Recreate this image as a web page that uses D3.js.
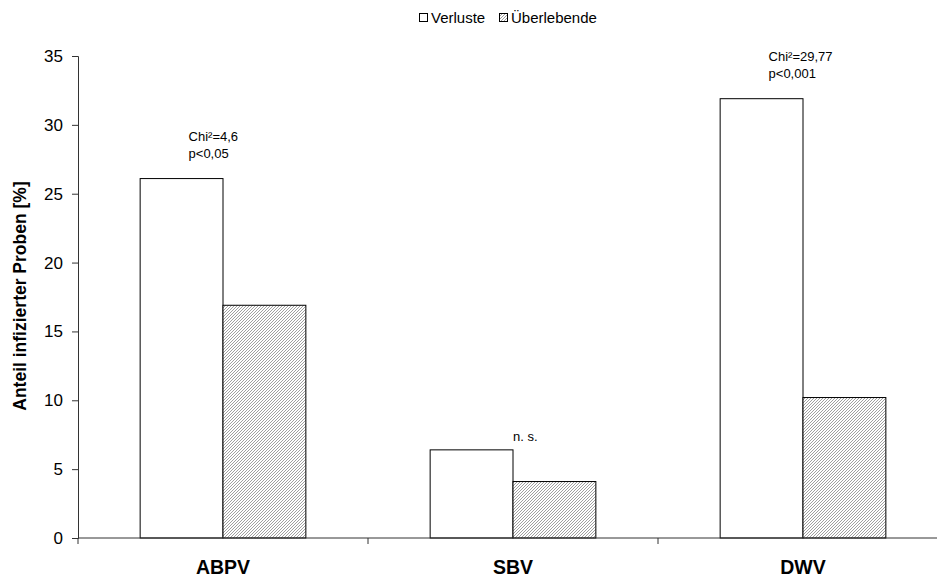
<!DOCTYPE html>
<html><head><meta charset="utf-8">
<script src="https://cdn.jsdelivr.net/npm/d3@7"></script>
<style>body{margin:0;background:#fff;} svg{display:block;font-family:Arial,"Liberation Sans",sans-serif;}</style>
</head><body>
<script>
const categories = ["ABPV", "SBV", "DWV"];
const seriesNames = ["Verluste", "Überlebende"];
const verluste = [26.1, 6.4, 31.9];
const ueberlebende = [16.9, 4.1, 10.2];
const annotations = [["Chi²=4,6", "p<0,05"], ["n. s."], ["Chi²=29,77", "p<0,001"]];
const yTicks = [0, 5, 10, 15, 20, 25, 30, 35];

const W = 937, H = 579;
const svg = d3.select("body").append("svg").attr("width", W).attr("height", H);
const defs = svg.append("defs");
const pat = defs.append("pattern").attr("id", "hatch").attr("patternUnits", "userSpaceOnUse")
  .attr("width", 3).attr("height", 3);
pat.append("rect").attr("width", 3).attr("height", 3).attr("fill", "#fff");
pat.append("path").attr("d", "M0,3 L3,0 M-1,1 L1,-1 M2,4 L4,2").attr("stroke", "#959595").attr("stroke-width", 0.9);

const mLeft = 78, mRight = 948, mTop = 56, mBottom = 538;
const x0 = d3.scaleBand().domain(categories).range([mLeft, mRight]).paddingInner(0).paddingOuter(0);
const x1 = d3.scaleBand().domain(seriesNames).range([0, x0.bandwidth()]).paddingInner(0).paddingOuter(0.75);
const y = d3.scaleLinear().domain([0, 35]).range([mBottom, mTop]);

const data = categories.map((c, i) => ({cat: c, vals: [verluste[i], ueberlebende[i]]}));

// bars
const g = svg.append("g");
data.forEach((d, i) => {
  d.vals.forEach((v, j) => {
    g.append("rect")
      .attr("x", x0(d.cat) + x1(seriesNames[j]))
      .attr("y", y(v))
      .attr("width", x1.bandwidth())
      .attr("height", y(0) - y(v))
      .attr("fill", j === 0 ? "#fff" : "url(#hatch)")
      .attr("stroke", "#000").attr("stroke-width", 1);
  });
});

// y axis
const yAxis = d3.axisLeft(y).tickValues(yTicks).tickSize(6).tickPadding(9);
const ya = svg.append("g").attr("transform", `translate(${mLeft},0)`).call(yAxis);
ya.select(".domain").attr("stroke", "#333");
ya.selectAll(".tick line").attr("stroke", "#333");
ya.selectAll(".tick text").attr("font-size", 17).attr("fill", "#000").attr("font-family", "Arial, 'Liberation Sans', sans-serif");

// x axis
const xa = svg.append("g").attr("transform", `translate(0,${mBottom})`);
xa.append("line").attr("x1", mLeft).attr("x2", mRight).attr("stroke", "#333");
const boundaries = categories.map(c => x0(c)).concat([mRight]);
xa.selectAll("line.tk").data(boundaries).enter().append("line").attr("class", "tk")
  .attr("x1", d => d).attr("x2", d => d).attr("y1", 0).attr("y2", 6).attr("stroke", "#333");
xa.selectAll("text.cat").data(categories).enter().append("text").attr("class", "cat")
  .attr("x", d => x0(d) + x0.bandwidth() / 2).attr("y", 36)
  .attr("text-anchor", "middle").attr("font-size", 19.5).attr("font-weight", "bold").text(d => d);

// y title
svg.append("text").attr("transform", `translate(26,296) rotate(-90)`)
  .attr("text-anchor", "middle").attr("font-size", 17.5).attr("font-weight", "bold")
  .text("Anteil infizierter Proben [%]");

// annotations
data.forEach((d, i) => {
  const lines = annotations[i];
  const barTop = y(Math.max(...d.vals));
  const multi = lines.length > 1;
  const xx = multi ? x0(d.cat) + x1(seriesNames[0]) + x1.bandwidth() / 2 + 7
                   : x0(d.cat) + x1(seriesNames[1]) + 0;
  lines.forEach((t, k) => {
    const base = multi ? barTop - 21 - (lines.length - 1 - k) * 17 : barTop - 9;
    svg.append("text").attr("x", xx).attr("y", base)
      .attr("text-anchor", "start")
      .attr("font-size", 13).attr("fill", "#000").text(t);
  });
});

// legend
const lg = svg.append("g").attr("transform", "translate(419,13)");
lg.append("rect").attr("x", 0.5).attr("y", 0.5).attr("width", 8).attr("height", 8).attr("fill", "#fff").attr("stroke", "#000");
lg.append("text").attr("x", 12).attr("y", 9.5).attr("font-size", 15).text(seriesNames[0]);
lg.append("rect").attr("x", 80.5).attr("y", 0.5).attr("width", 8).attr("height", 8).attr("fill", "url(#hatch)").attr("stroke", "#000");
lg.append("text").attr("x", 92).attr("y", 9.5).attr("font-size", 15).text(seriesNames[1]);
</script>
</body></html>
